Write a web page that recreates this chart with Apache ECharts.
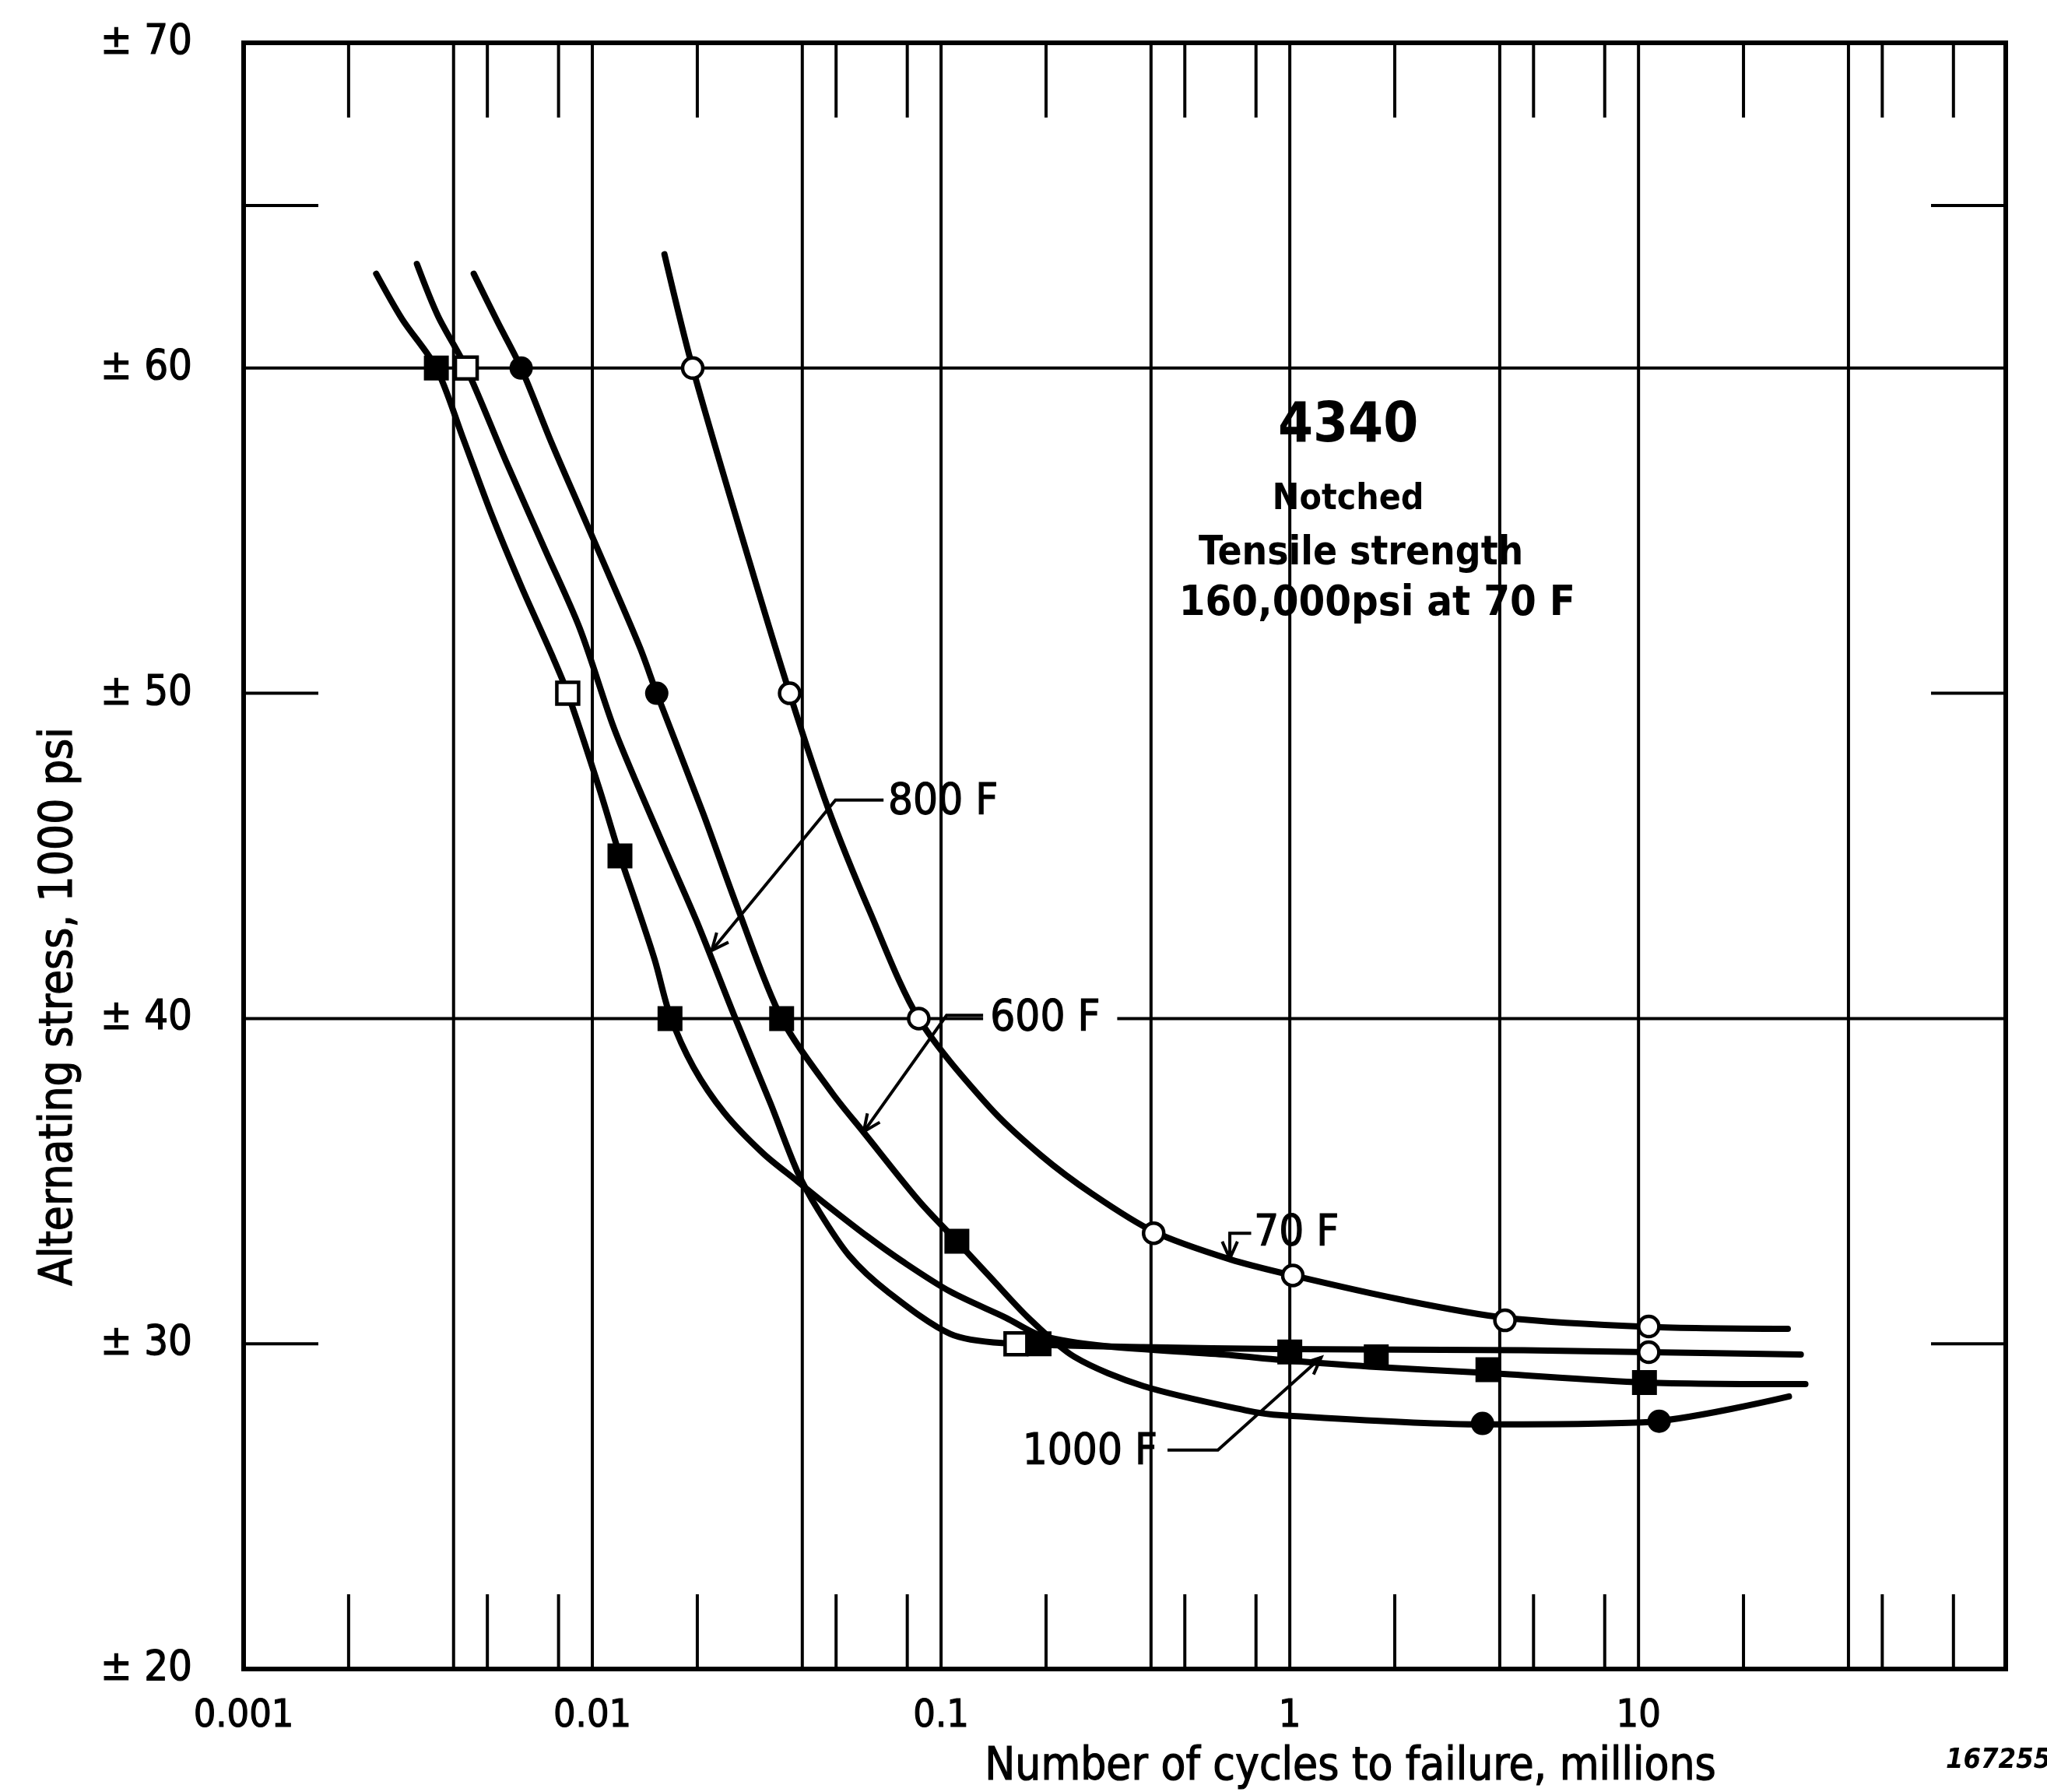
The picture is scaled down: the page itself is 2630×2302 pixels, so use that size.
<!DOCTYPE html>
<html>
<head>
<meta charset="utf-8">
<title>4340 notched fatigue curves</title>
<script src="https://cdn.jsdelivr.net/npm/echarts@6/dist/echarts.min.js"></script>
<style>
  html, body { margin: 0; padding: 0; background: #fff; }
  #chart { width: 2630px; height: 2302px; }
</style>
</head>
<body>
<div id="chart"></div>
<script>
// Fonts: condensed technical lettering
const FONT = '"DejaVu Sans Condensed", "Liberation Sans Narrow", "DejaVu Sans", sans-serif';

// ---- Axes ----
// x: number of cycles to failure (millions), logarithmic; y: alternating stress (1000 psi)
const xTickLabels = ['0.001', '0.01', '0.1', '1', '10'];
const yTickValues = [20, 30, 40, 50, 60, 70];
const xGridFull  = [0.004, 0.01, 0.04, 0.1, 0.4, 1, 4, 10, 40];
const xGridShort = [0.002, 0.005, 0.008, 0.02, 0.05, 0.08, 0.2, 0.5, 0.8, 2, 5, 8, 20, 50, 80];
const yGridFull  = [40, 60];
const yGridShort = [30, 50, 65];

// ---- Faired S-N curves [cycles (millions), stress (ksi)] ----
const curve70F = [
  [0.0161, 63.5], [0.0194, 60.0], [0.0283, 54.0], [0.0368, 50.0], [0.0473, 46.5],
  [0.0624, 43.3], [0.0863, 40.0], [0.137, 37.3], [0.193, 35.8], [0.272, 34.6],
  [0.407, 33.45], [0.673, 32.6], [1.02, 32.1], [2.1, 31.35], [4.14, 30.8],
  [10.7, 30.52], [26.8, 30.46]
];
const curve600F = [
  [0.00457, 62.9], [0.00536, 61.4], [0.00625, 60.0], [0.00764, 57.7], [0.00929, 55.6],
  [0.0113, 53.5], [0.0137, 51.4], [0.0153, 50.0], [0.0208, 46.3], [0.0261, 43.4],
  [0.0349, 40.0], [0.0488, 37.7], [0.06, 36.5], [0.0863, 34.4], [0.111, 33.15],
  [0.137, 32.1], [0.178, 30.8], [0.241, 29.6], [0.38, 28.7], [0.75, 27.95],
  [0.948, 27.8], [3.57, 27.52], [10.2, 27.58], [27.0, 28.38]
];
const curve800F = [
  [0.00314, 63.2], [0.00361, 61.6], [0.00435, 60.0], [0.00567, 57.1], [0.00733, 54.4],
  [0.0092, 52.0], [0.01147, 49.0], [0.0132, 47.4], [0.0165, 45.0], [0.0199, 43.0],
  [0.0255, 40.1], [0.0324, 37.4], [0.0387, 35.3], [0.0445, 34.1], [0.0546, 32.7],
  [0.0703, 31.6], [0.1064, 30.3], [0.15, 30.02], [0.38, 29.9], [0.948, 29.84],
  [4.69, 29.8], [10.7, 29.74], [29.2, 29.67]
];
const curve1000F = [
  [0.0024, 62.9], [0.00285, 61.5], [0.00357, 60.0], [0.00424, 57.9], [0.00514, 55.5],
  [0.00625, 53.3], [0.00764, 51.2], [0.0085, 50.0], [0.01045, 47.1], [0.012, 45.0],
  [0.0132, 43.7], [0.0151, 41.8], [0.0167, 40.1], [0.0195, 38.5], [0.0239, 37.1],
  [0.0309, 35.85], [0.0387, 35.0], [0.0466, 34.3], [0.0615, 33.3], [0.0771, 32.55],
  [0.1064, 31.6], [0.1535, 30.8], [0.195, 30.24], [0.3, 29.92], [0.646, 29.67],
  [0.948, 29.5], [1.69, 29.3], [3.7, 29.1], [10.4, 28.81], [30.1, 28.76]
];

// ---- Test points, grouped by plotting symbol ----
const openCircles = [
  [0.0194, 60], [0.0368, 50], [0.0863, 40], [0.407, 33.4], [1.02, 32.1],
  [4.14, 30.72], [10.7, 30.53], [10.7, 29.74]
];
const filledCircles = [[0.00625, 60], [0.0153, 50], [3.57, 27.55], [11.46, 27.62]];
const filledSquares = [
  [0.00357, 60], [0.012, 45], [0.0167, 40], [0.0349, 40], [0.111, 33.15],
  [0.191, 30.0], [1.0, 29.75], [1.77, 29.6], [3.7, 29.2], [10.4, 28.81]
];
const openSquares = [[0.00435, 60], [0.0085, 50], [0.164, 30.0]];

// ---- Curve call-outs (label anchor and leader path in data units) ----
const callouts = [
  { text: '800 F',  at: [0.0705, 46.66], align: 'left',
    path: [[0.0684, 46.72], [0.0498, 46.72], [0.0220, 42.09]] },
  { text: '600 F',  at: [0.1384, 40.0],  align: 'left',
    path: [[0.132, 40.1], [0.1037, 40.1], [0.0600, 36.52]] },
  { text: '70 F',   at: [0.79, 33.4],    align: 'left',
    path: [[0.775, 33.4], [0.673, 33.4], [0.673, 32.62]] },
  { text: '1000 F', at: [0.417, 26.66],  align: 'right',
    path: [[0.446, 26.73], [0.622, 26.73], [1.23, 29.58]] }
];
const notes = [
  { text: '4340', at: [1.47, 58.2] },
  { text: 'Notched', at: [1.47, 55.95] },
  { text: 'Tensile strength', at: [1.60, 54.29] },
  { text: '160,000psi at 70 F', at: [1.78, 52.74] }
];

const TICK_LEN = 96;
const INK = '#000';

const chart = echarts.init(document.getElementById('chart'), null, { renderer: 'canvas' });

function gridRender(isVertical) {
  return function (params, api) {
    const cs = params.coordSys;
    const style = { stroke: INK, lineWidth: 4 };
    const full = api.value(2) === 1;
    if (isVertical) {
      const x = api.coord([api.value(0), 45])[0];
      if (full) return { type: 'line', shape: { x1: x, y1: cs.y, x2: x, y2: cs.y + cs.height }, style };
      return { type: 'group', children: [
        { type: 'line', shape: { x1: x, y1: cs.y, x2: x, y2: cs.y + TICK_LEN }, style },
        { type: 'line', shape: { x1: x, y1: cs.y + cs.height, x2: x, y2: cs.y + cs.height - TICK_LEN }, style }
      ] };
    }
    const y = api.coord([1, api.value(1)])[1];
    if (full) return { type: 'line', shape: { x1: cs.x, y1: y, x2: cs.x + cs.width, y2: y }, style };
    return { type: 'group', children: [
      { type: 'line', shape: { x1: cs.x, y1: y, x2: cs.x + TICK_LEN, y2: y }, style },
      { type: 'line', shape: { x1: cs.x + cs.width, y1: y, x2: cs.x + cs.width - TICK_LEN, y2: y }, style }
    ] };
  };
}

function curveSeries(name, data) {
  return {
    name, type: 'line', data, smooth: 0.3, symbol: 'none',
    lineStyle: { color: INK, width: 8, cap: 'round', join: 'round' }, z: 10, silent: true
  };
}

function markerSeries(name, data, symbol, size, filled) {
  return {
    name, type: 'scatter', data, symbol, symbolSize: size, z: 12, silent: true,
    itemStyle: filled
      ? { color: INK, borderColor: INK, borderWidth: 0, opacity: 1 }
      : { color: '#fff', borderColor: INK, borderWidth: 4.5, opacity: 1 }
  };
}

const labelInk = { color: INK, textBorderColor: INK, textBorderWidth: 1.2 };

const option = {
  animation: false,
  backgroundColor: '#fff',
  grid: {
    left: 313, right: 53, top: 55, bottom: 158,
    show: true, borderColor: INK, borderWidth: 6, backgroundColor: 'transparent'
  },
  xAxis: {
    type: 'log', logBase: 10, min: 0.001, max: 113,
    axisLine: { show: false }, axisTick: { show: false },
    splitLine: { show: false }, minorTick: { show: false },
    axisLabel: Object.assign({
      margin: 36, fontSize: 50, fontFamily: FONT,
      formatter: v => {
        const k = Math.round(Math.log10(v)) + 3;
        return xTickLabels[k] !== undefined ? xTickLabels[k] : '';
      }
    }, labelInk)
  },
  yAxis: {
    type: 'value', min: yTickValues[0], max: yTickValues[yTickValues.length - 1], interval: 10,
    axisLine: { show: false }, axisTick: { show: false }, splitLine: { show: false },
    axisLabel: Object.assign({ margin: 66, fontSize: 54, fontFamily: FONT, formatter: v => '\u00b1 ' + v }, labelInk)
  },
  series: [
    { type: 'custom', silent: true, z: 1, renderItem: gridRender(true),
      data: xGridFull.map(v => [v, 45, 1]).concat(xGridShort.map(v => [v, 45, 0])) },
    { type: 'custom', silent: true, z: 1, renderItem: gridRender(false),
      data: yGridFull.map(v => [1, v, 1]).concat(yGridShort.map(v => [1, v, 0])) },
    curveSeries('70 F', curve70F),
    curveSeries('600 F', curve600F),
    curveSeries('800 F', curve800F),
    curveSeries('1000 F', curve1000F),
    markerSeries('open circles', openCircles, 'circle', 26, false),
    markerSeries('filled circles', filledCircles, 'circle', 30, true),
    markerSeries('filled squares', filledSquares, 'rect', 32, true),
    markerSeries('open squares', openSquares, 'rect', 28, false)
  ]
};

chart.setOption(option);

// ---- Annotations placed through the chart's own coordinate conversion ----
const P = p => chart.convertToPixel({ gridIndex: 0 }, p);
const graphics = [];

function arrowHead(tip, from) {
  const ang = Math.atan2(tip[1] - from[1], tip[0] - from[0]);
  const len = 24, spread = 0.42;
  const a1 = ang + Math.PI - spread, a2 = ang + Math.PI + spread;
  return {
    type: 'polyline', z: 20, silent: true,
    shape: { points: [
      [tip[0] + len * Math.cos(a1), tip[1] + len * Math.sin(a1)], tip,
      [tip[0] + len * Math.cos(a2), tip[1] + len * Math.sin(a2)]
    ] },
    style: { stroke: INK, lineWidth: 4, fill: 'none' }
  };
}

function textEl(x, y, text, extra, rotation) {
  return { type: 'text', z: 21, silent: true, x, y, rotation: rotation || 0,
    style: Object.assign({ text, fontFamily: FONT, fill: INK, stroke: INK, lineWidth: 1.2,
                           align: 'center', verticalAlign: 'middle' }, extra) };
}

// white gap in the 40 grid line behind the "600 F" label
const gapA = P([0.132, 40.6]), gapB = P([0.32, 39.4]);
graphics.push({ type: 'rect', z: 5, silent: true,
  shape: { x: gapA[0], y: gapA[1], width: gapB[0] - gapA[0], height: gapB[1] - gapA[1] },
  style: { fill: '#fff' } });

callouts.forEach(c => {
  const pts = c.path.map(P);
  graphics.push({ type: 'polyline', z: 20, silent: true, shape: { points: pts },
    style: { stroke: INK, lineWidth: 4, fill: 'none' } });
  graphics.push(arrowHead(pts[pts.length - 1], pts[pts.length - 2]));
  const t = P(c.at);
  graphics.push(textEl(t[0], t[1], c.text, { fontSize: 56, align: c.align }));
});

const noteStyles = [
  { fontSize: 72, fontWeight: 'bold', lineWidth: 0 },
  { fontSize: 46, fontWeight: 'bold', lineWidth: 0 },
  { fontSize: 51, fontWeight: 'bold', lineWidth: 0 },
  { fontSize: 54, fontWeight: 'bold', lineWidth: 0 }
];
notes.forEach((n, i) => {
  const t = P(n.at);
  graphics.push(textEl(t[0], t[1], n.text, noteStyles[i]));
});

// axis titles
graphics.push(textEl(1735, 2271, 'Number of cycles to failure, millions', { fontSize: 58 }));
graphics.push(textEl(77, 1293, 'Alternating stress, 1000 psi', { fontSize: 58 }, Math.PI / 2));
// figure number
graphics.push(textEl(2500, 2262, '167255',
  { fontSize: 36, fontStyle: 'italic', fontWeight: 'bold', align: 'left', lineWidth: 0 }));

chart.setOption({ graphic: graphics });
</script>
</body>
</html>
